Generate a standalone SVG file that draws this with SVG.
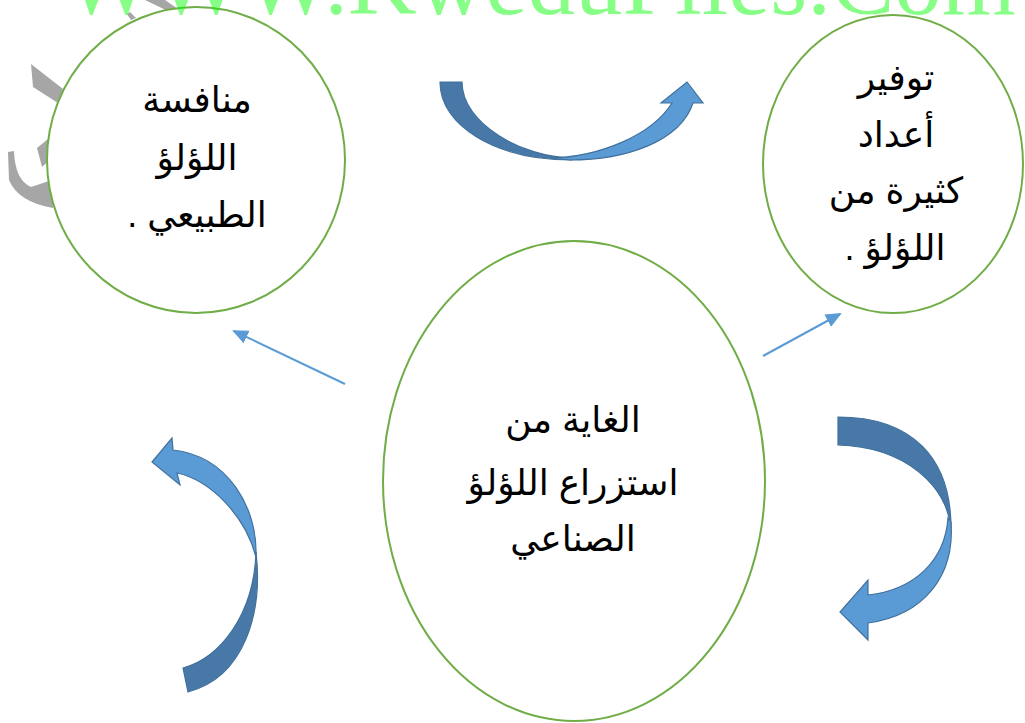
<svg xmlns="http://www.w3.org/2000/svg" width="1025" height="723" viewBox="0 0 1025 723">
<style>
.node{fill:#ffffff;stroke:#70AD47;stroke-width:2}
.lbl{font-family:"Liberation Sans","DejaVu Sans",sans-serif;font-size:36px;fill:#000000;text-anchor:middle}
.dark{fill:#4878A8;stroke:#41719C;stroke-width:1.2}
.light{fill:#5B9BD5;stroke:#41719C;stroke-width:1.2}
.conn{stroke:#5B9BD5;stroke-width:2;fill:none}
.wm{fill:#A6A6A6}
</style>
<defs>
<marker id="ah" markerUnits="userSpaceOnUse" markerWidth="18" markerHeight="16" refX="14" refY="7" orient="auto">
<path d="M0,0 L16,7 L0,14 Z" fill="#5B9BD5"/>
</marker>
</defs>
<rect width="1025" height="723" fill="#ffffff"/>
<g id="watermark-grey">
<path class="wm" d="M145,0 L165,0 L178,9 L170,12 Z"/>
<path class="wm" d="M127,14 L131,20 L136,18 L130,12 Z"/>
<path class="wm" d="M31,64 L63,89 L58,103 L33,87 Z"/>
<path class="wm" d="M37,148 L48,139 L50,160 L42,167 Z"/>
<path class="wm" d="M8,152 L14,151 Q15,180 31,187 L52,180 L53,208 Q18,202 9,180 Z"/>
</g>
<g id="connectors">
<line class="conn" x1="345" y1="384" x2="234" y2="331" marker-end="url(#ah)"/>
<line class="conn" x1="763" y1="356" x2="840" y2="314" marker-end="url(#ah)"/>
<g id="arrow-top">
<path class="dark" d="M440,82 L462,82 C462,124 522,157 572,158 L572,160 C496,160 440,126 440,82 Z"/>
<path class="light" d="M550,158 C600,157 652,135 672,103 L661,103 L687,82 L703,103 L693,103 C680,142 625,160 570,160 Z"/>
</g>
<g id="arrow-right">
<path class="dark" d="M838,417 C912,417 951,458 951,528 C946,485 905,447 838,445 Z"/>
<path class="light" d="M948,518 C945,560 915,590 868,595 L868,580 L840,612 L868,640 L868,623 C925,615 955,575 951,522 Z"/>
</g>
<g id="arrow-left">
<path class="dark" d="M183,668 C220,658 254,615 256,552 C263,612 245,677 188,692 Z"/>
<path class="light" d="M177,473 C210,480 245,515 256,557 C258,508 228,456 173,450 L172,438 L152,462 L180,485 Z"/>
</g>
</g>
<g id="node-left">
<ellipse class="node" cx="196" cy="160" rx="149" ry="153"/>
<text class="lbl" direction="rtl" x="197" y="112">منافسة</text>
<text class="lbl" direction="rtl" x="197" y="170">اللؤلؤ</text>
<text class="lbl" direction="rtl" x="197" y="227">الطبيعي .</text>
</g>
<g id="node-right">
<ellipse class="node" cx="893" cy="164" rx="130" ry="149"/>
<text class="lbl" direction="rtl" x="896" y="90">توفير</text>
<text class="lbl" direction="rtl" x="896" y="147">أعداد</text>
<text class="lbl" direction="rtl" x="896" y="203">كثيرة من</text>
<text class="lbl" direction="rtl" x="895" y="260">اللؤلؤ .</text>
</g>
<g id="node-center">
<ellipse class="node" cx="574" cy="481" rx="191" ry="240"/>
<text class="lbl" direction="rtl" x="573" y="432">الغاية من</text>
<text class="lbl" direction="rtl" x="573" y="495">استزراع اللؤلؤ</text>
<text class="lbl" direction="rtl" x="573" y="551">الصناعي</text>
</g>
<text x="64" y="14" font-family="Liberation Serif,serif" font-size="95" fill="#00ff00" fill-opacity="0.47">WWW.KweduFiles.Com</text>
</svg>
